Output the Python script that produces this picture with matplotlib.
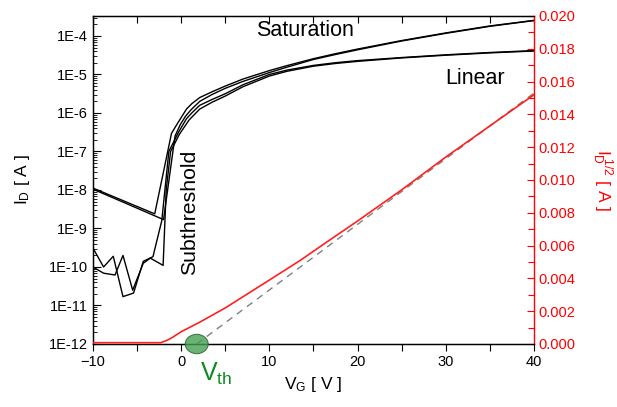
import matplotlib
matplotlib.use("Agg")
import matplotlib.pyplot as plt
from matplotlib.ticker import MultipleLocator, LogLocator, NullFormatter, FormatStrFormatter
from matplotlib.patches import Ellipse
import numpy as np

plt.rcParams['font.family'] = ['Liberation Sans', 'DejaVu Sans']
plt.rcParams['mathtext.fontset'] = 'custom'
plt.rcParams['mathtext.rm'] = 'Liberation Sans'
plt.rcParams['mathtext.it'] = 'Liberation Sans'

# ---- data ----
# saturation, forward sweep
vg_s1 = [-10, -3.0, -1.1, -0.5, 0, 0.6, 1.2, 2.1, 3.5, 5, 7, 10, 12, 15, 17.5, 20, 25, 30, 35, 40]
id_s1 = [1.12e-8, 2.4e-9, 2.95e-7, 5.0e-7, 7.6e-7, 1.26e-6, 1.74e-6, 2.51e-6, 3.55e-6,
         5.0e-6, 7.6e-6, 1.26e-5, 1.7e-5, 2.57e-5, 3.47e-5, 4.57e-5, 7.6e-5, 1.2e-4,
         1.82e-4, 2.54e-4]
# saturation, reverse sweep
vg_s2 = [-10, -2.0, -0.7, -0.1, 0.5, 1.1, 2.1, 3.5, 5, 7, 10, 12, 15, 17.5, 20, 25, 30, 35, 40]
id_s2 = [1.05e-8, 1.7e-9, 2.51e-7, 5.0e-7, 8.3e-7, 1.2e-6, 2.0e-6, 3.02e-6, 4.37e-6,
         6.6e-6, 1.12e-5, 1.55e-5, 2.45e-5, 3.3e-5, 4.37e-5, 7.4e-5, 1.17e-4, 1.78e-4,
         2.51e-4]
# linear, forward sweep
vg_l1 = [-10, -8.8, -7.7, -6.6, -5.4, -4.3, -3.2, -2.2, -1.4, -0.3, 0.6, 1.2, 2.1,
         3.5, 5, 7, 10, 12, 15, 17.5, 20, 25, 30, 35, 40]
id_l1 = [3.1e-10, 1.0e-10, 1.9e-10, 1.7e-11, 2.1e-11, 1.4e-10, 1.85e-10, 1.6e-9,
         1.0e-7, 3.16e-7, 7.1e-7, 1.0e-6, 1.58e-6, 2.24e-6, 3.16e-6, 5.4e-6, 1.0e-5,
         1.3e-5, 1.72e-5, 2.02e-5, 2.29e-5, 2.75e-5, 3.24e-5, 3.72e-5, 4.17e-5]
# linear, reverse sweep
vg_l2 = [-10, -8.8, -7.5, -6.6, -5.5, -4.3, -3.5, -2.05, -1.7, -1.2, -0.2, 0.9,
         2.1, 3.5, 5, 7, 10, 12, 15, 17.5, 20, 25, 30, 35, 40]
id_l2 = [1.0e-10, 6.9e-11, 6.2e-11, 2.0e-10, 2.5e-11, 1.25e-10, 1.7e-10, 1.1e-10,
         1.0e-8, 1.0e-7, 2.8e-7, 6.6e-7, 1.26e-6, 1.9e-6, 2.75e-6, 4.8e-6, 9.1e-6,
         1.21e-5, 1.64e-5, 1.93e-5, 2.19e-5, 2.69e-5, 3.16e-5, 3.63e-5, 4.07e-5]
# square root of drain current (saturation)
vg_sq = [-10, -2.3, -1.5, -1, 0, 2, 5, 10, 13.5, 17, 20, 25, 30, 35, 40]
sq_id = [0.00008, 0.00008, 0.00025, 0.0004, 0.00075, 0.0013, 0.0022, 0.0039,
         0.0051, 0.0064, 0.0075, 0.0094, 0.0114, 0.0133, 0.0152]
# linear extrapolation
vg_fit = [1.76, 40]
sq_fit = [0.0, 0.0153]
vth = 1.76

fig = plt.figure(figsize=(6.17, 4.07), dpi=100)
ax = fig.add_axes([0.1507, 0.1548, 0.7148, 0.8059])
ax2 = ax.twinx()

lw = 1.0
for xv, yv in [(vg_s1, id_s1), (vg_s2, id_s2), (vg_l1, id_l1), (vg_l2, id_l2)]:
    ax.plot(xv, yv, color='black', lw=lw)

ax.set_yscale('log')
ax.set_xlim(-10, 40)
ax.yaxis.set_minor_locator(LogLocator(base=10, subs=np.arange(2, 10), numticks=20))
ax.yaxis.set_minor_formatter(NullFormatter())
ax.set_yticks([10.0 ** k for k in range(-12, -3)])
ax.set_yticklabels(['1E-%d' % k for k in range(12, 3, -1)])
ax.set_ylim(1e-12, 3.3e-4)
ax.xaxis.set_major_locator(MultipleLocator(10))
ax.xaxis.set_minor_locator(MultipleLocator(5))
ax.tick_params(axis='x', which='both', direction='out', length=5, width=0.8,
               top=False, labelsize=10.5, pad=3)
ax.tick_params(axis='y', which='major', direction='in', length=6, width=0.8,
               labelsize=10.5)
ax.tick_params(axis='y', which='minor', direction='in', length=3, width=0.6)

# top ticks (inward, no labels)
sec = ax.secondary_xaxis('top')
sec.xaxis.set_major_locator(MultipleLocator(5))
sec.tick_params(direction='in', length=5, width=0.8, labeltop=False)
sec.spines['top'].set_visible(False)

ax2.plot(vg_fit, sq_fit, color='#808080', lw=1.0, ls=(0, (5, 4)), zorder=2)
ax2.plot(vg_sq, sq_id, color='#ff2020', lw=1.2, zorder=3)
ax2.set_ylim(0, 0.020)
ax2.yaxis.set_major_locator(MultipleLocator(0.002))
ax2.yaxis.set_minor_locator(MultipleLocator(0.001))
ax2.yaxis.set_major_formatter(FormatStrFormatter('%.3f'))
ax2.tick_params(axis='y', which='both', direction='in', colors='#ff0000',
                labelsize=10.5, width=0.8)
ax2.tick_params(axis='y', which='major', length=5)
ax2.tick_params(axis='y', which='minor', length=4)
ax2.spines['right'].set_color('#ff0000')
ax2.spines['right'].set_linewidth(1.0)
circ = Ellipse((vth, 0.0), width=2.6, height=0.00118, facecolor='#45a052',
               edgecolor='#24672f', alpha=0.8, lw=0.8, clip_on=False, zorder=5)
ax2.add_patch(circ)

for sp in ['left', 'top', 'bottom']:
    ax.spines[sp].set_linewidth(1.0)
ax.spines['right'].set_visible(False)

ax.set_ylabel(r'$\mathregular{I_D}$ [ A ]', fontsize=12.5, labelpad=12)
ax.set_xlabel(r'$\mathregular{V_G}$ [ V ]', fontsize=12.5, labelpad=4)
ax2.set_ylabel(r'$\mathregular{I_D^{\ 1/2}}$ [ A ]', fontsize=12.5, color='#ff0000',
               rotation=270, labelpad=28)

ax.text(305 / 617, 1 - 31 / 407, 'Saturation', transform=fig.transFigure,
        ha='center', va='center', fontsize=15.5)
ax.text(475 / 617, 1 - 78 / 407, 'Linear', transform=fig.transFigure,
        ha='center', va='center', fontsize=15.5)
ax.text(190 / 617, 1 - 212 / 407, 'Subthreshold', transform=fig.transFigure,
        ha='center', va='center', fontsize=15.3, rotation=90)
ax.text(200 / 617, 1 - 374 / 407, r'$\mathregular{V_{th}}$', transform=fig.transFigure,
        ha='left', va='center', fontsize=18, color='#0a8a20')

fig.savefig('out.png', dpi=100)
